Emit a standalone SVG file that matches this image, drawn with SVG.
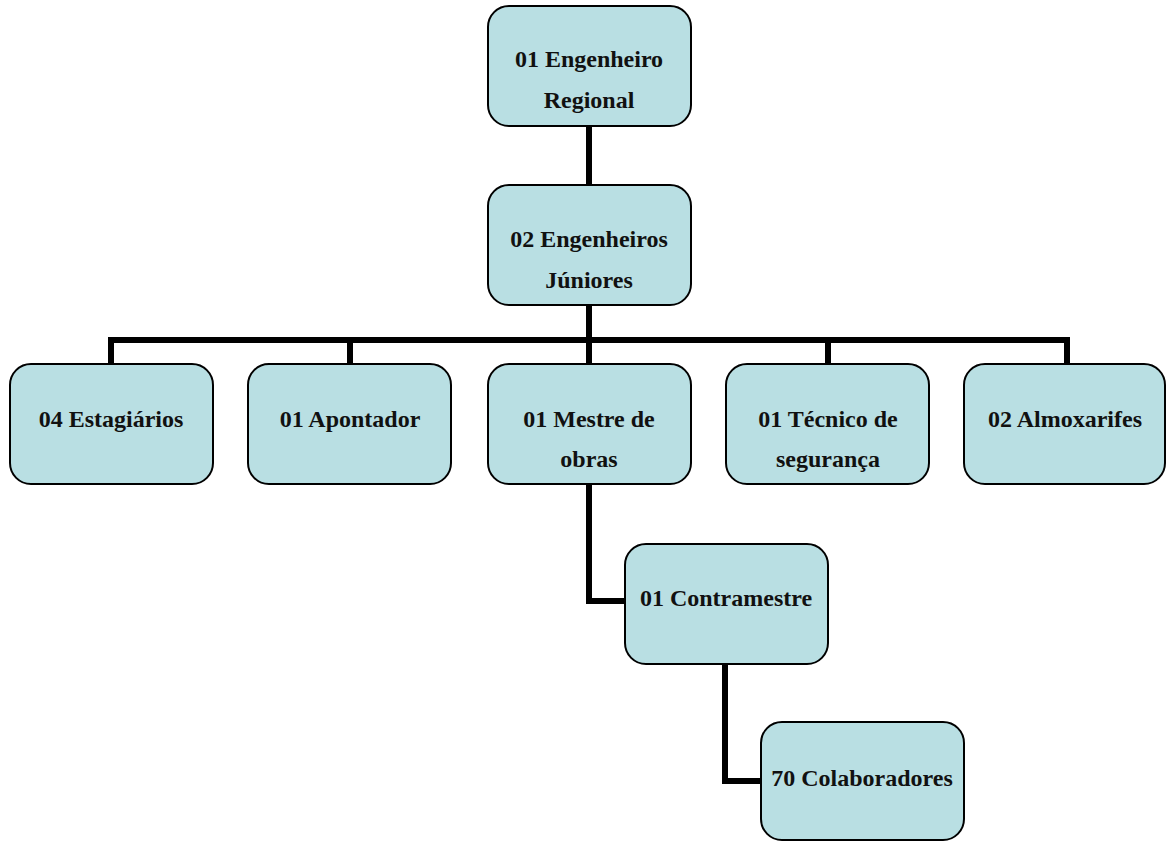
<svg xmlns="http://www.w3.org/2000/svg" width="1166" height="841" viewBox="0 0 1166 841">
  <style>
    .box { fill: #b9dfe3; stroke: #000; stroke-width: 2; }
    .lbl { font-family: "Liberation Serif", "Times New Roman", serif; font-weight: bold; font-size: 24px; fill: #111; text-anchor: middle; }
    .link { fill: none; stroke: #000; stroke-width: 6; stroke-linejoin: miter; }
  </style>
  <rect width="1166" height="841" fill="#fff"/>

  <!-- connectors -->
  <g id="connectors">
    <path class="link" d="M589 126 V186"/>
    <path class="link" d="M589 305 V365"/>
    <path class="link" d="M111 365 V340 H1067 V365"/>
    <path class="link" d="M350 340 V365"/>
    <path class="link" d="M828 340 V365"/>
    <path class="link" d="M589 484 V601 H625"/>
    <path class="link" d="M725 663 V781 H761"/>
  </g>

  <g id="n-regional">
    <rect class="box" x="488" y="6" width="203" height="120" rx="21"/>
    <text class="lbl" x="589" y="67">01 Engenheiro</text>
    <text class="lbl" x="589" y="108">Regional</text>
  </g>
  <g id="n-juniores">
    <rect class="box" x="488" y="185" width="203" height="120" rx="21"/>
    <text class="lbl" x="589" y="247">02 Engenheiros</text>
    <text class="lbl" x="589" y="288">Júniores</text>
  </g>
  <g id="n-estagiarios">
    <rect class="box" x="10" y="364" width="203" height="120" rx="21"/>
    <text class="lbl" x="111" y="427">04 Estagiários</text>
  </g>
  <g id="n-apontador">
    <rect class="box" x="248" y="364" width="203" height="120" rx="21"/>
    <text class="lbl" x="350" y="427">01 Apontador</text>
  </g>
  <g id="n-mestre">
    <rect class="box" x="488" y="364" width="203" height="120" rx="21"/>
    <text class="lbl" x="589" y="427">01 Mestre de</text>
    <text class="lbl" x="589" y="467">obras</text>
  </g>
  <g id="n-tecnico">
    <rect class="box" x="726" y="364" width="203" height="120" rx="21"/>
    <text class="lbl" x="828" y="427">01 Técnico de</text>
    <text class="lbl" x="828" y="467">segurança</text>
  </g>
  <g id="n-almoxarifes">
    <rect class="box" x="964" y="364" width="201" height="120" rx="21"/>
    <text class="lbl" x="1065" y="427">02 Almoxarifes</text>
  </g>
  <g id="n-contramestre">
    <rect class="box" x="625" y="544" width="203" height="120" rx="21"/>
    <text class="lbl" x="726" y="606">01 Contramestre</text>
  </g>
  <g id="n-colaboradores">
    <rect class="box" x="761" y="722" width="203" height="118" rx="21"/>
    <text class="lbl" x="862" y="786">70 Colaboradores</text>
  </g>
</svg>
